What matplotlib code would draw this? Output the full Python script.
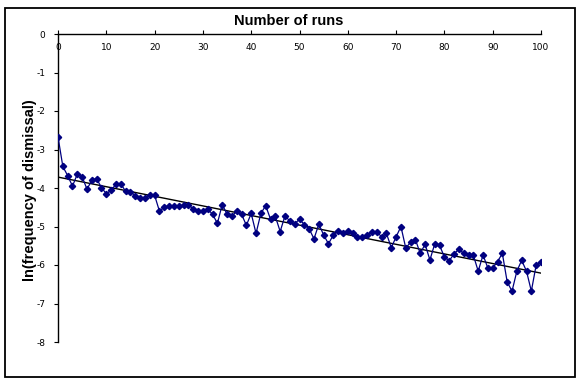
import matplotlib
matplotlib.use("Agg")
import matplotlib.pyplot as plt
import numpy as np
from matplotlib.patches import Rectangle

runs = list(range(0, 101))
ln_freq = [
    -2.67, -3.44, -3.68, -3.95, -3.64, -3.71, -4.03, -3.80, -3.76, -3.99,
    -4.15, -4.06, -3.90, -3.90, -4.08, -4.10, -4.20, -4.25, -4.25, -4.18,
    -4.19, -4.60, -4.50, -4.48, -4.46, -4.48, -4.45, -4.44, -4.54, -4.61,
    -4.59, -4.55, -4.68, -4.92, -4.43, -4.68, -4.73, -4.61, -4.68, -4.97,
    -4.66, -5.18, -4.66, -4.46, -4.81, -4.74, -5.13, -4.72, -4.86, -4.93,
    -4.81, -4.95, -5.06, -5.32, -4.94, -5.22, -5.45, -5.22, -5.12, -5.18,
    -5.11, -5.16, -5.28, -5.28, -5.22, -5.13, -5.13, -5.27, -5.18, -5.55,
    -5.27, -5.00, -5.56, -5.41, -5.34, -5.70, -5.46, -5.87, -5.45, -5.49,
    -5.79, -5.89, -5.71, -5.59, -5.70, -5.75, -5.75, -6.16, -5.74, -6.08,
    -6.08, -5.91, -5.70, -6.44, -6.68, -6.16, -5.88, -6.16, -6.68, -6.00,
    -5.91,
]
x_ticks = [0, 10, 20, 30, 40, 50, 60, 70, 80, 90, 100]
y_ticks = [0, -1, -2, -3, -4, -5, -6, -7, -8]
y_tick_labels = ["0", "-1", "-2", "-3", "-4", "-5", "-6", "-7", "-8"]

W, H = 580, 389
fig = plt.figure(figsize=(W / 100, H / 100), dpi=100)
fig.patch.set_facecolor("white")
left, right, top, bottom = 58 / W, 541 / W, 1 - 34 / H, 1 - 342 / H
ax = fig.add_axes([left, bottom, right - left, top - bottom])

x = np.array(runs)
y = np.array(ln_freq)
ax.plot(x, y, color="#000080", lw=0.9, marker="D", markersize=3.2,
        markerfacecolor="#000080", markeredgecolor="#000080", zorder=3)
coef = np.polyfit(x, y, 1)
xt = np.array([x.min(), x.max()])
ax.plot(xt, np.polyval(coef, xt), color="black", lw=1.0, zorder=2)

ax.set_xlim(0, 100)
ax.set_ylim(-8, 0)
ax.spines["right"].set_visible(False)
ax.spines["bottom"].set_visible(False)
ax.spines["left"].set_linewidth(1.0)
ax.spines["top"].set_linewidth(1.0)

ax.xaxis.tick_top()
ax.set_xticks(x_ticks)
ax.set_xticklabels([str(t) for t in x_ticks])
ax.tick_params(axis="x", direction="out", length=3, width=0.8, pad=-16,
               labelsize=6.5, top=True, bottom=False)
ax.set_yticks(y_ticks)
ax.set_yticklabels(y_tick_labels)
ax.tick_params(axis="y", direction="out", length=3, width=0.8, pad=6,
               labelsize=6.5)

fig.text(289 / W, 1 - 21 / H, "Number of runs", ha="center",
         va="center", fontsize=10.5, fontweight="bold", family="Liberation Sans")
fig.text(30 / W, 1 - 190 / H, "ln(frequency of dismissal)", ha="center",
         va="center", rotation=90, fontsize=10.5, fontweight="bold",
         family="Liberation Sans")

fig.patches.append(Rectangle((5 / W, 1 - 377 / H), 570 / W, 369 / H,
                             transform=fig.transFigure, fill=False,
                             lw=1.3, ec="black"))

fig.savefig("out.png", dpi=100, facecolor="white")
